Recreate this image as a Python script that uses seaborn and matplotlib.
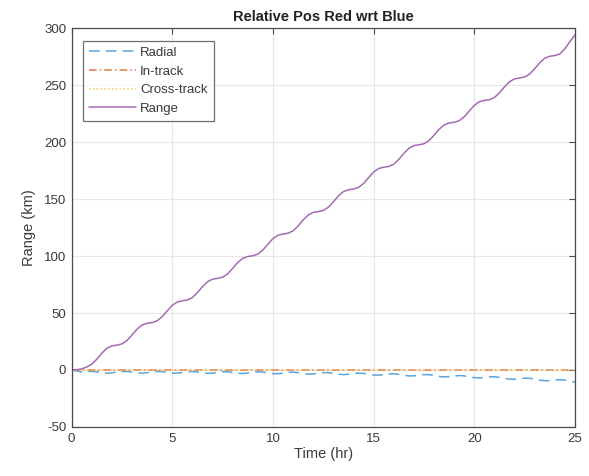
import numpy as np
import pandas as pd
import matplotlib
matplotlib.use("Agg")
import matplotlib.pyplot as plt
import seaborn as sns

# Time samples (hours) and relative-position components (km)
time_hr = np.linspace(0, 25, 101)

range_km = [
    0.0, 0.2, 1.0, 2.6, 5.2, 9.5, 14.8, 19.1, 21.2, 21.8, 22.9, 25.9,
    30.8, 35.9, 39.5, 41.0, 41.6, 43.2, 46.8, 52.0, 56.8, 59.7, 60.7, 61.4,
    63.6, 68.0, 73.2, 77.5, 79.7, 80.4, 81.4, 84.4, 89.2, 94.4, 98.0, 99.6,
    100.2, 101.7, 105.3, 110.4, 115.3, 118.3, 119.3, 120.0, 122.1, 126.4, 131.7, 136.0,
    138.3, 139.0, 140.0, 142.8, 147.6, 152.8, 156.5, 158.2, 158.7, 160.2, 163.7, 168.8,
    173.7, 176.8, 177.9, 178.6, 180.6, 184.8, 190.1, 194.5, 196.9, 197.6, 198.5, 201.3,
    206.0, 211.2, 215.0, 216.8, 217.3, 218.7, 222.2, 227.3, 232.2, 235.4, 236.5, 237.1,
    239.1, 243.2, 248.5, 253.0, 255.4, 256.2, 257.1, 259.7, 264.4, 269.6, 273.6, 275.3,
    275.9, 277.4, 282.0, 288.0, 294.0,
]

radial_km = [
    0.0, -0.8, -1.8, -1.41, -1.22, -1.66, -2.39, -2.79, -2.55, -1.86, -1.29, -1.31,
    -1.91, -2.60, -2.81, -2.38, -1.65, -1.25, -1.49, -2.19, -2.78, -2.78, -2.21, -1.53,
    -1.32, -1.76, -2.50, -2.95, -2.75, -2.08, -1.51, -1.52, -2.13, -2.85, -3.10, -2.71,
    -2.02, -1.62, -1.86, -2.58, -3.21, -3.27, -2.74, -2.09, -1.89, -2.34, -3.12, -3.62,
    -3.47, -2.85, -2.30, -2.33, -2.96, -3.73, -4.06, -3.73, -3.08, -2.70, -2.96, -3.72,
    -4.42, -4.55, -4.08, -3.47, -3.30, -3.79, -4.61, -5.19, -5.12, -4.56, -4.06, -4.12,
    -4.80, -5.63, -6.04, -5.80, -5.21, -4.87, -5.19, -5.99, -6.78, -6.99, -6.61, -6.06,
    -5.94, -6.48, -7.38, -8.04, -8.07, -7.60, -7.16, -7.28, -8.02, -8.94, -9.45, -9.30,
    -8.80, -8.53, -8.90, -9.78, -10.66,
]

in_track_km = [0.0] * len(time_hr)
cross_track_km = [0.0] * len(time_hr)

series_names = ["Radial", "In-track", "Cross-track", "Range"]
series_values = [radial_km, in_track_km, cross_track_km, range_km]

df = pd.DataFrame({
    "Time (hr)": np.tile(time_hr, len(series_names)),
    "Value": np.concatenate([np.asarray(v, dtype=float) for v in series_values]),
    "Component": np.repeat(series_names, len(time_hr)),
})

sns.set_theme(style="white")
plt.rcParams["font.family"] = ["Liberation Sans", "DejaVu Sans"]
plt.rcParams["axes.unicode_minus"] = False

fig = plt.figure(figsize=(5.89, 4.76), dpi=100)
fig.patch.set_facecolor("white")
ax = fig.add_axes([0.1217, 0.103, 0.8545, 0.838])

palette = {
    "Radial": "#5aa6da",
    "In-track": "#de7a4e",
    "Cross-track": "#f2c36a",
    "Range": "#a46bb3",
}
dash_map = {
    "Radial": (7, 4),
    "In-track": (5, 2, 1, 2),
    "Cross-track": (1, 1.5),
    "Range": "",
}

sns.lineplot(
    data=df, x="Time (hr)", y="Value", hue="Component", style="Component",
    hue_order=series_names, style_order=series_names,
    palette=palette, dashes=dash_map, linewidth=1.1, ax=ax, sort=False,
)

ax.set_xlim(0, 25)
ax.set_ylim(-50, 300)
ax.set_xticks([0, 5, 10, 15, 20, 25])
ax.set_yticks([-50, 0, 50, 100, 150, 200, 250, 300])

text_color = "#3a3a3a"
ax.grid(True, color="#e6e6e6", linewidth=0.8)
ax.set_axisbelow(True)
for side in ["left", "right", "top", "bottom"]:
    ax.spines[side].set_visible(True)
    ax.spines[side].set_color("#4a4a4a")
    ax.spines[side].set_linewidth(0.9)
ax.tick_params(axis="both", which="both", direction="in", length=4,
               width=0.8, color="#4a4a4a", labelsize=9.5,
               labelcolor=text_color, top=True, right=True, pad=4)

ax.set_xlabel("Time (hr)", fontsize=10.5, color=text_color, labelpad=2)
ax.set_ylabel("Range (km)", fontsize=10.5, color=text_color, labelpad=6)
ax.set_title("Relative Pos Red wrt Blue", fontsize=10.5, fontweight="bold",
             color="#222222", pad=5)

handles, labels = ax.get_legend_handles_labels()
leg = ax.legend(handles, labels, loc="upper left", bbox_to_anchor=(0.022, 0.968),
                fontsize=9.5, frameon=True, fancybox=False, handlelength=3.6,
                handletextpad=0.3, borderpad=0.45, labelspacing=0.48,
                borderaxespad=0.0)
leg.get_frame().set_edgecolor("#4a4a4a")
leg.get_frame().set_linewidth(0.9)
for txt in leg.get_texts():
    txt.set_color(text_color)

fig.savefig("out.png", dpi=100, facecolor="white")
